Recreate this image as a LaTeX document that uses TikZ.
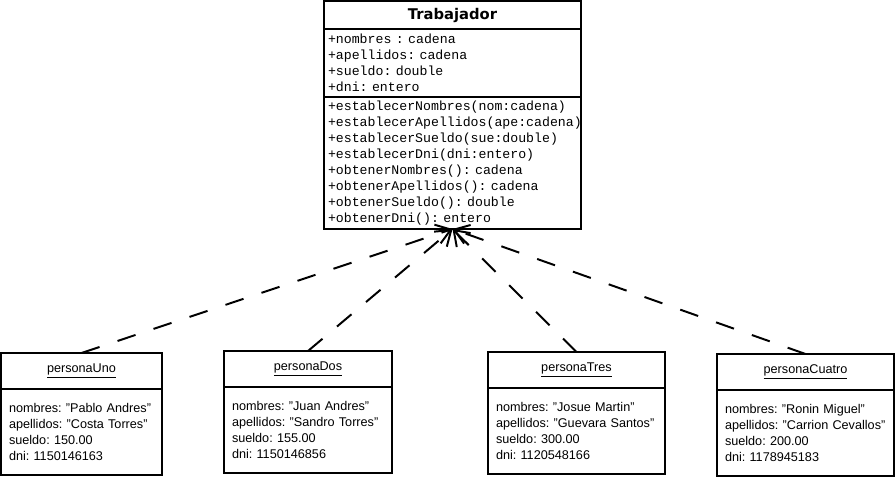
\documentclass[tikz,border=0pt]{standalone}
\usepackage{fontspec}
\setmainfont{Liberation Sans}
\newfontfamily\monofont{Liberation Mono}
\newfontfamily\titlefont{DejaVu Sans}
\usetikzlibrary{positioning,arrows.meta}
\frenchspacing

\begin{document}
\begin{tikzpicture}[
    caja/.style={draw, line width=1.4pt, outer sep=0pt, inner sep=0pt},
    clase/.style={caja, minimum width=6.425cm, minimum height=0.7cm, font=\titlefont\bfseries\fontsize{10.5}{12}\selectfont},
    miembros/.style={caja, inner xsep=0.1cm, text width=6.225cm, align=left, font=\monofont\fontsize{9.4}{11.38}\selectfont},
    objeto/.style={caja, minimum height=0.9cm, font=\fontsize{9}{11}\selectfont},
    datos/.style={caja, inner xsep=0.2cm, align=left, minimum height=2.15cm, font=\fontsize{9}{11.38}\selectfont},
    instancia/.style={line width=1.4pt, dash pattern=on 13.5pt off 13.5pt, -{Straight Barb[length=10pt,width=14pt]}}
]
    \useasboundingbox (0,0) rectangle (22.4,-11.925);

    % Clase (tres compartimentos)
    \node[clase] (tra) at (11.3125,-0.375) {Trabajador};
    \node[miembros, minimum height=1.7cm, below=0pt of tra] (traA) {+nombres : cadena\\+apellidos: cadena\\+sueldo: double\\+dni: entero};
    \node[miembros, minimum height=3.3cm, below=0pt of traA] (traM) {+establecerNombres(nom:cadena)\\+establecerApellidos(ape:cadena)\\+establecerSueldo(sue:double)\\+establecerDni(dni:entero)\\+obtenerNombres(): cadena\\+obtenerApellidos(): cadena\\+obtenerSueldo(): double\\+obtenerDni(): entero};

    % Objetos (nombre subrayado)
    \node[objeto, minimum width=4.025cm] (uno) at (2.0375,-9.275) {\underline{personaUno}};
    \node[objeto, minimum width=4.2cm] (dos) at (7.7,-9.225) {\underline{personaDos}};
    \node[objeto, minimum width=4.425cm] (tres) at (14.4125,-9.25) {\underline{personaTres}};
    \node[objeto, minimum width=4.425cm] (cuatro) at (20.1375,-9.3) {\underline{personaCuatro}};

    % Valores de cada objeto
    \node[datos, text width=3.625cm, below=0pt of uno] (unoD) {nombres: "Pablo Andres"\\apellidos: "Costa Torres"\\sueldo: 150.00\\dni: 1150146163};
    \node[datos, text width=3.8cm, below=0pt of dos] (dosD) {nombres: "Juan Andres"\\apellidos: "Sandro Torres"\\sueldo: 155.00\\dni: 1150146856};
    \node[datos, text width=4.025cm, below=0pt of tres] (tresD) {nombres: "Josue Martin"\\apellidos: "Guevara Santos"\\sueldo: 300.00\\dni: 1120548166};
    \node[datos, text width=4.025cm, below=0pt of cuatro] (cuatroD) {nombres: "Ronin Miguel"\\apellidos: "Carrion Cevallos"\\sueldo: 200.00\\dni: 1178945183};

    % Instancias (discontinuas, hacia la clase)
    \draw[instancia] (uno.north) -- (traM.south);
    \draw[instancia] (dos.north) -- (traM.south);
    \draw[instancia] (tres.north) -- (traM.south);
    \draw[instancia] (cuatro.north) -- (traM.south);

\end{tikzpicture}
\end{document}
